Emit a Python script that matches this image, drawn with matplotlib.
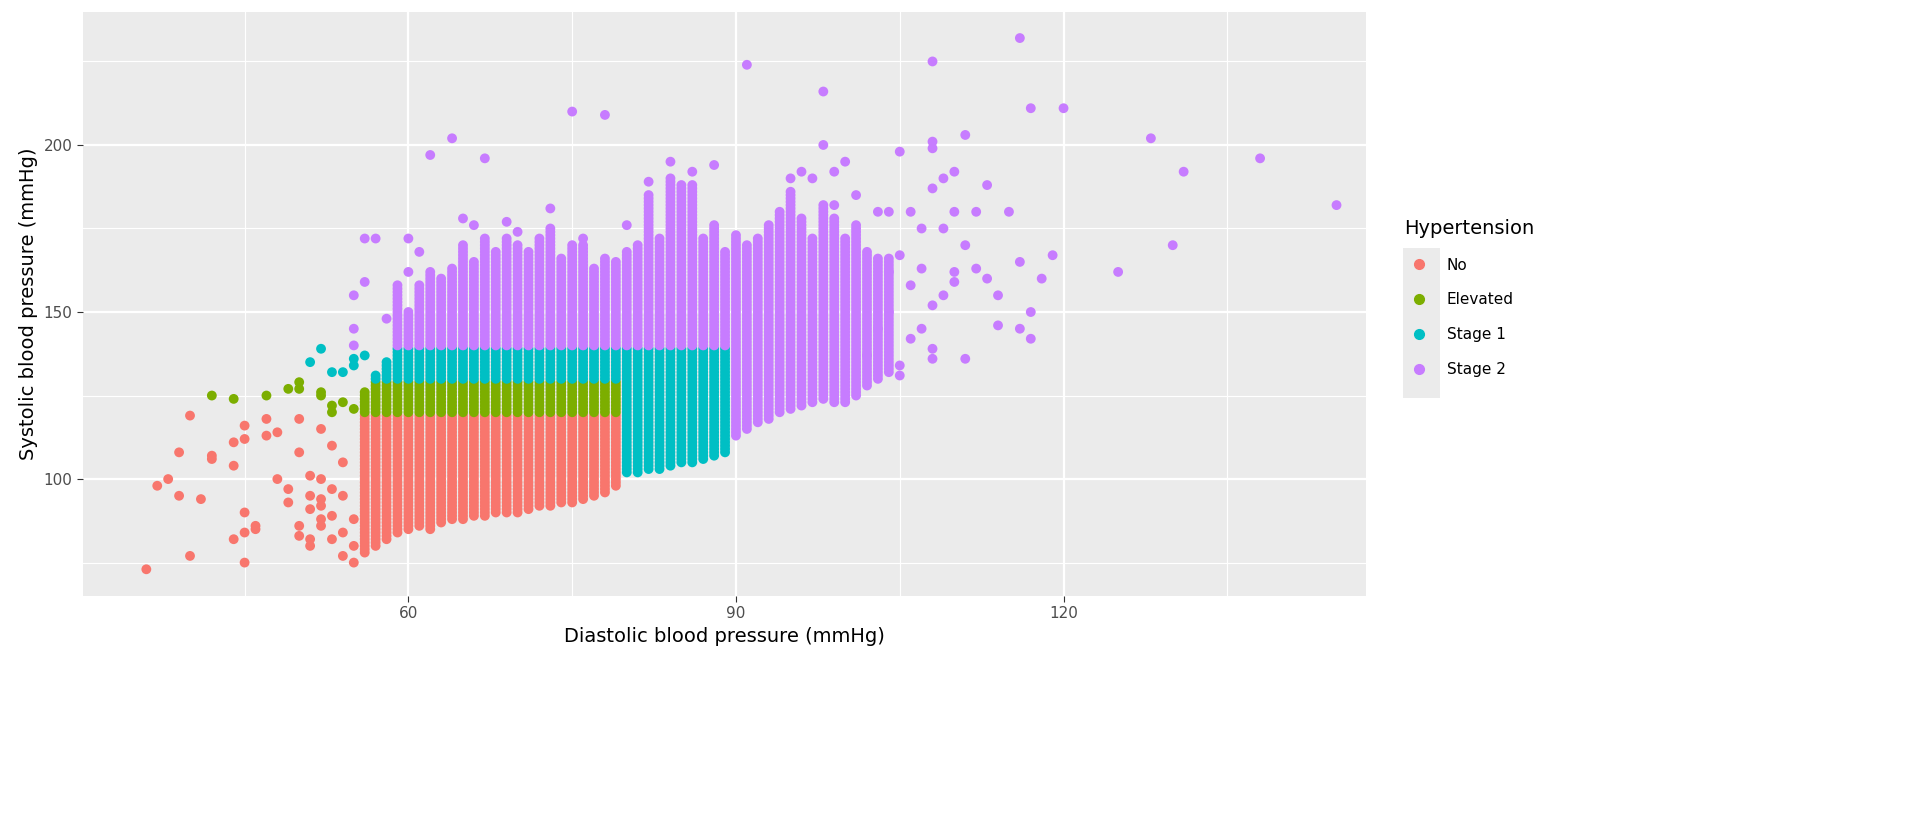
import matplotlib
matplotlib.use("Agg")
import matplotlib.pyplot as plt
from matplotlib.lines import Line2D
from matplotlib.patches import Rectangle

# Dense columns: (diastolic, lowest systolic, highest systolic)
dense_cols = [
    (56, 78, 126), (57, 80, 130), (58, 82, 135), (59, 84, 158), (60, 85, 150), (61, 86, 158),
    (62, 85, 162), (63, 87, 160), (64, 88, 163), (65, 88, 170), (66, 89, 165), (67, 89, 172),
    (68, 90, 168), (69, 90, 172), (70, 90, 170), (71, 91, 168), (72, 92, 172), (73, 92, 175),
    (74, 93, 166), (75, 93, 170), (76, 94, 170), (77, 95, 163), (78, 96, 166), (79, 98, 165),
    (80, 102, 168), (81, 102, 170), (82, 103, 185), (83, 103, 172), (84, 104, 190),
    (85, 105, 188), (86, 105, 188), (87, 106, 172), (88, 107, 176), (89, 108, 168),
    (90, 113, 173), (91, 115, 170), (92, 117, 172), (93, 118, 176), (94, 120, 180),
    (95, 121, 186), (96, 122, 178), (97, 123, 172), (98, 124, 182), (99, 123, 178),
    (100, 123, 172), (101, 125, 176), (102, 128, 168), (103, 130, 166), (104, 132, 166),
]

# Sparse points
sparse_dia = [36, 37, 38, 39, 39, 40, 40, 41, 42, 42, 44, 44, 44, 45, 45, 45, 45, 45, 46, 46,
              47, 47, 48, 48, 49, 49, 50, 50, 50, 50, 51, 51, 51, 51, 51, 52, 52, 52, 52, 52,
              53, 53, 53, 54, 54, 54, 55, 55, 52, 53, 54, 55,
              42, 44, 47, 49, 50, 50, 52, 52, 53, 53, 54, 55,
              51, 52, 53, 54, 55, 55, 56, 57,
              55, 55, 56, 56, 57, 55, 58, 60, 60, 61, 62, 64, 67, 75, 78, 91, 98, 108, 116, 117,
              120, 128, 131, 130, 125, 138, 145, 119, 118, 117, 117, 116, 116, 115, 114, 114,
              113, 112, 111, 110, 110, 109, 108, 108, 108, 107, 107, 106, 105, 105, 104, 104,
              103, 102, 101, 100, 99, 97, 96, 95, 98, 99, 103, 104, 106, 108, 108, 111, 112,
              113, 110, 109, 105, 105, 106, 107, 108, 109, 110, 111, 65, 66, 69, 70, 73, 76,
              80, 82, 84, 86, 88]
sparse_sys = [73, 98, 100, 95, 108, 77, 119, 94, 106, 107, 82, 104, 111, 75, 84, 90, 112, 116, 85, 86,
              113, 118, 100, 114, 93, 97, 83, 86, 108, 118, 80, 82, 91, 95, 101, 86, 88, 92, 94, 100,
              82, 89, 97, 77, 84, 95, 80, 88, 115, 110, 105, 75,
              125, 124, 125, 127, 127, 129, 125, 126, 122, 120, 123, 121,
              135, 139, 132, 132, 134, 136, 137, 131,
              155, 140, 159, 172, 172, 145, 148, 162, 172, 168, 197, 202, 196, 210, 209, 224, 216, 225, 232, 211,
              211, 202, 192, 170, 162, 196, 182, 167, 160, 142, 150, 165, 145, 180, 146, 155,
              188, 180, 203, 192, 180, 190, 201, 199, 187, 175, 163, 180, 198, 167, 162, 150,
              145, 137, 185, 195, 192, 190, 192, 190, 200, 182, 180, 180, 158, 139, 136, 136, 163,
              160, 162, 175, 131, 134, 142, 145, 152, 155, 159, 170, 178, 176, 177, 174, 181, 172,
              176, 189, 195, 192, 194]

categories = ["No", "Elevated", "Stage 1", "Stage 2"]
colors = ["#F8766D", "#7CAE00", "#00BFC4", "#C77CFF"]

dia, sys_ = [], []
for d, lo, hi in dense_cols:
    for s in range(lo, hi + 1):
        dia.append(d); sys_.append(s)
dia += sparse_dia
sys_ += sparse_sys

def cat(d, s):
    if s >= 140 or d >= 90:
        return 3
    if s >= 130 or d >= 80:
        return 2
    if s >= 120:
        return 1
    return 0

cats = [cat(d, s) for d, s in zip(dia, sys_)]

fig = plt.figure(figsize=(19.2, 8.16), dpi=100)
ax = fig.add_axes([83/1920, 1-596/816, (1366-83)/1920, (596-12)/816])
ax.set_facecolor("#EBEBEB")
for sp in ax.spines.values():
    sp.set_visible(False)
ax.set_xlim(30.2, 147.7)
ax.set_ylim(65, 239.8)
ax.set_xticks([60, 90, 120])
ax.set_yticks([100, 150, 200])
ax.set_xticks([45, 75, 105, 135], minor=True)
ax.set_yticks([75, 125, 175, 225], minor=True)
ax.grid(True, which="major", color="white", lw=1.6)
ax.grid(True, which="minor", color="white", lw=0.8)
ax.set_axisbelow(True)
ax.tick_params(which="major", length=4, color="#333333", labelsize=11, labelcolor="#4D4D4D")
ax.tick_params(which="minor", length=0)

for i in [0, 1, 2, 3]:
    xs = [d for d, c in zip(dia, cats) if c == i]
    ys = [s for s, c in zip(sys_, cats) if c == i]
    ax.scatter(xs, ys, s=50, color=colors[i], edgecolors="none", zorder=3)

ax.set_xlabel("Diastolic blood pressure (mmHg)", fontsize=14)
ax.set_ylabel("Systolic blood pressure (mmHg)", fontsize=14)

fig.patches.append(Rectangle((1403/1920, 1-398/816), 37/1920, 150/816,
                             transform=fig.transFigure, facecolor="#EBEBEB", edgecolor="none", zorder=0))
handles = [Line2D([], [], marker="o", ls="", color=c, markersize=7) for c in colors]
leg = fig.legend(handles, categories, loc="upper left", bbox_to_anchor=(1390/1920, 1-205/816),
                 frameon=False, title="Hypertension", fontsize=11, title_fontsize=14,
                 handletextpad=0.8, labelspacing=1.3, alignment="left")
fig.savefig("out.png", dpi=100)
